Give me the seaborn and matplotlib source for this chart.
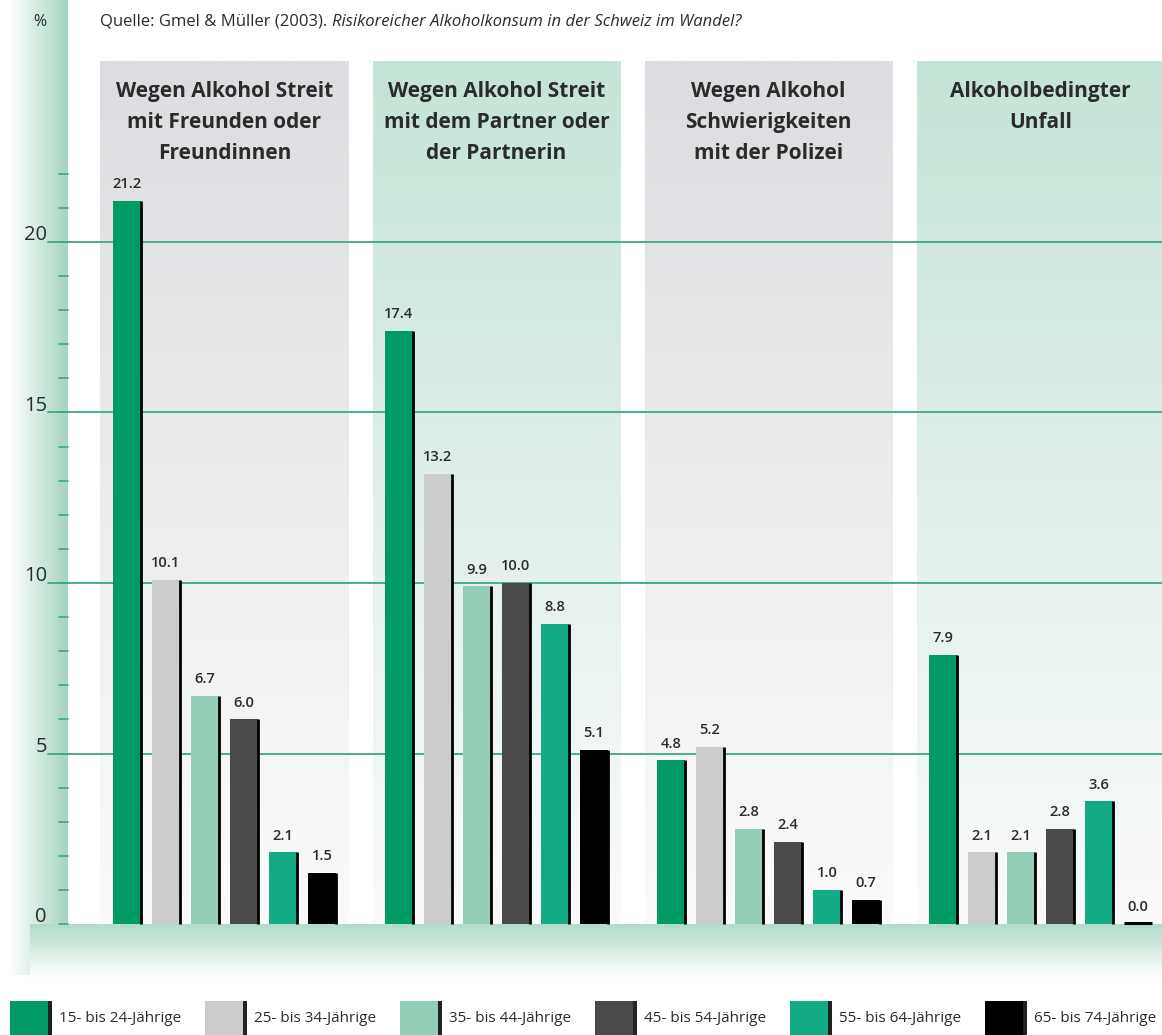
"""
Alkoholbedingte Probleme nach Altersgruppe
------------------------------------------
Grouped bar chart rebuilt with seaborn.
"""

import numpy as np
import pandas as pd
import matplotlib.pyplot as plt
import seaborn as sns
from matplotlib.colors import to_rgb

# --- data ---------------------------------------------------------------
categories = [
    "Wegen Alkohol Streit\nmit Freunden oder\nFreundinnen",
    "Wegen Alkohol Streit\nmit dem Partner oder\nder Partnerin",
    "Wegen Alkohol\nSchwierigkeiten\nmit der Polizei",
    "Alkoholbedingter\nUnfall",
]
age_groups = [
    "15- bis 24-Jährige",
    "25- bis 34-Jährige",
    "35- bis 44-Jährige",
    "45- bis 54-Jährige",
    "55- bis 64-Jährige",
    "65- bis 74-Jährige",
]
val_15_24 = [21.2, 17.4, 4.8, 7.9]
val_25_34 = [10.1, 13.2, 5.2, 2.1]
val_35_44 = [6.7, 9.9, 2.8, 2.1]
val_45_54 = [6.0, 10.0, 2.4, 2.8]
val_55_64 = [2.1, 8.8, 1.0, 3.6]
val_65_74 = [1.5, 5.1, 0.7, 0.0]
y_ticks = [0, 5, 10, 15, 20]

colors = ["#009a64", "#cccccc", "#94cdb6", "#4a4a4a", "#13aa86", "#000000"]
panel_top = ["#dcdde0", "#c5e3d6", "#dcdde0", "#c5e3d6"]
grid_green = "#3aa982"
text_dark = "#2b2b2b"

series = [val_15_24, val_25_34, val_35_44, val_45_54, val_55_64, val_65_74]
rows = []
for age, vals in zip(age_groups, series):
    for cat, v in zip(categories, vals):
        rows.append({"cat": cat, "age": age, "val": v})
df = pd.DataFrame(rows)

# --- figure geometry (pixel based) ---------------------------------------
W, H = 1162, 1035
px_per_cat = 272.0
px_per_unit = 34.1
x0_px = 224.5     # centre of first category
y0_px = 924.0     # value 0


def xd(px):
    return (px - x0_px) / px_per_cat


def yd(px):
    return (y0_px - px) / px_per_unit


sns.set_theme(style="white")
plt.rcParams["font.family"] = ["Open Sans", "DejaVu Sans"]

fig = plt.figure(figsize=(W / 100, H / 100), dpi=100)
ax = fig.add_axes([0, 0, 1, 1])
xlim = (xd(0), xd(W))
ylim = (yd(H), yd(0))


def vgrad(c_top, c_bot, n=256):
    a = np.array(to_rgb(c_top))
    b = np.array(to_rgb(c_bot))
    t = np.linspace(0, 1, n)[:, None]
    return (a * (1 - t) + b * t)[:, None, :]


# left gradient strip
t = np.linspace(0, 1, 256)[None, :, None]
left_c = np.array(to_rgb("#ffffff"))
right_c = np.array(to_rgb("#a3d4bf"))
strip = left_c * (1 - t) + right_c * t
strip = np.repeat(strip, 2, axis=0)
ax.imshow(strip, extent=[xd(10), xd(68), yd(975), yd(0)], aspect="auto",
          zorder=0, interpolation="bilinear")

# floor band
ax.imshow(vgrad("#b2dbc8", "#ffffff"), extent=[xd(30), xd(W), yd(978), yd(925)],
          aspect="auto", zorder=0.5, interpolation="bilinear")

# category panels
half = 124 / px_per_cat
for i, c in enumerate(panel_top):
    ax.imshow(vgrad(c, "#fbfbfb"), extent=[i - half, i + half, 0, yd(62)],
              aspect="auto", zorder=1, interpolation="bilinear")
    ax.text(i, yd(81), categories[i], ha="center", va="top", fontsize=15,
            fontweight="bold", color=text_dark, linespacing=1.62, zorder=5)

# grid lines and ticks
for v in y_ticks[1:]:
    ax.plot([xd(48), xd(W)], [v, v], color=grid_green, lw=1.3, zorder=2)
for v in range(0, 23):
    ax.plot([xd(59), xd(68)], [v, v], color=grid_green, lw=1.2, zorder=2)
for v in y_ticks:
    ax.text(xd(47), v + 0.05, str(v), ha="right", va="baseline", fontsize=14.5,
            color=text_dark, zorder=5)

# bars
sns.barplot(data=df, x="cat", y="val", hue="age", hue_order=age_groups,
            palette=colors, saturation=1, width=0.86, gap=0.3,
            edgecolor="none", linewidth=0, legend=False, ax=ax, zorder=3)

for p in ax.patches:
    x_r = p.get_x() + p.get_width()
    h = p.get_height()
    ax.vlines(x_r, 0, h, color="black", lw=2, zorder=4)
    if h == 0:
        ax.hlines(0.03, p.get_x(), x_r, color="black", lw=2.2, zorder=4)

for cont in ax.containers:
    ax.bar_label(cont, fmt="%.1f", padding=7, fontsize=10.5,
                 fontweight="semibold", color=text_dark, zorder=5)

ax.set_xlim(xlim)
ax.set_ylim(ylim)
ax.axis("off")

# header texts
fig.text(40 / W, 1 - 22 / H, "%", ha="center", va="center", fontsize=11.5,
         color=text_dark)
t1 = fig.text(100 / W, 1 - 22 / H, "Quelle: Gmel & Müller (2003). ",
              ha="left", va="center", fontsize=12, color=text_dark)
fig.canvas.draw()
bb = t1.get_window_extent()
fig.text(bb.x1 / W, 1 - 22 / H,
         "Risikoreicher Alkoholkonsum in der Schweiz im Wandel?",
         ha="left", va="center", fontsize=12, style="italic", color=text_dark)

# legend
lax = fig.add_axes([0, 0, 1, 40 / H])
lax.set_xlim(0, W)
lax.set_ylim(40, 0)
lax.axis("off")
for i, (lab, c) in enumerate(zip(age_groups, colors)):
    x = 10 + i * 195
    lax.add_patch(plt.Rectangle((x, 6), 38, 40, color=c, lw=0))
    lax.add_patch(plt.Rectangle((x + 38, 6), 3.5, 40, color="#222222", lw=0))
    lax.text(x + 49, 23, lab, ha="left", va="center", fontsize=11,
             color=text_dark)

fig.savefig("out.png", dpi=100)
plt.close(fig)
